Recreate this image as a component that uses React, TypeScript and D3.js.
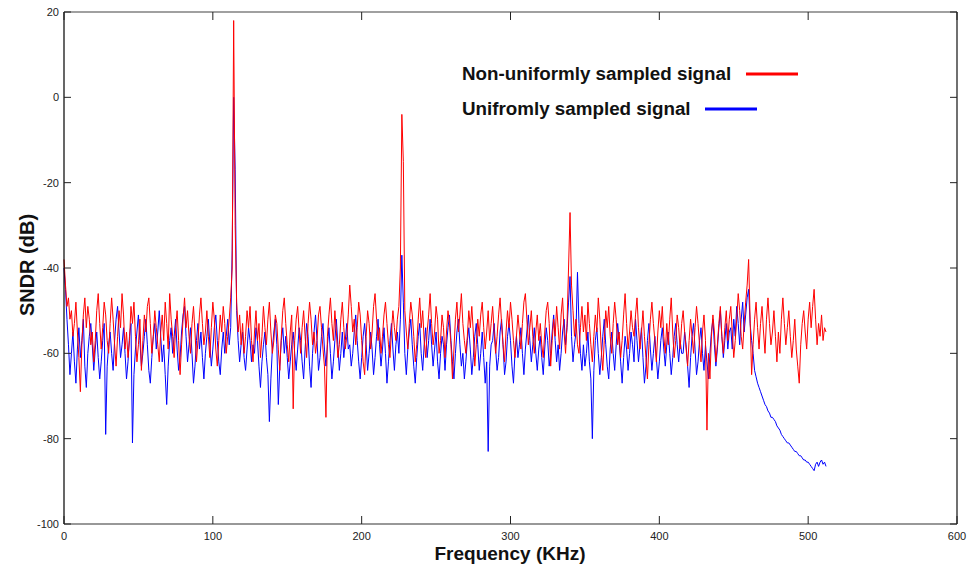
import * as d3 from "d3";
import { useEffect } from "react";

// spectrum bins, 1 kHz apart, 0..512 kHz
const freqStep = 1;

// SNDR (dB), non-uniformly sampled signal
const nonUniform = [
  -38, -44, -49, -47, -52, -50, -56, -53, -48, -55, -61, -69, -58, -51, -47, -54,
  -49, -52, -58, -55, -62, -57, -50, -46, -53, -59, -54, -48, -51, -57, -60, -53,
  -47, -52, -58, -63, -56, -50, -54, -46, -51, -59, -55, -61, -57, -49, -53, -48,
  -56, -62, -58, -52, -64, -57, -51, -55, -49, -47, -53, -60, -56, -50, -54, -58,
  -62, -55, -51, -57, -48, -53, -59, -46, -52, -56, -61, -54, -50, -57, -65, -58,
  -52, -47, -54, -50, -56, -60, -53, -49, -55, -62, -57, -51, -47, -53, -58, -55,
  -50, -56, -61, -54, -48, -52, -59, -63, -57, -51, -55, -49, -53, -60, -56, -52,
  -47, -40, 18, -30, -48, -55, -51, -58, -53, -60, -56, -50, -54, -49, -57, -62,
  -55, -50, -57, -53, -61, -56, -49, -54, -58, -52, -48, -55, -60, -57, -51, -53,
  -59, -64, -56, -50, -47, -53, -58, -62, -55, -51, -73, -57, -52, -49, -55, -60,
  -54, -50, -56, -61, -53, -48, -52, -58, -55, -60, -57, -51, -49, -54, -59, -63,
  -75, -56, -51, -47, -53, -57, -50, -55, -61, -58, -52, -48, -54, -59, -56, -51,
  -44, -49, -55, -52, -58, -54, -48, -51, -57, -62, -65, -56, -50, -53, -59, -55,
  -49, -46, -52, -57, -54, -60, -56, -51, -48, -53, -58, -61, -55, -50, -54, -57,
  -52, -49, -40, -4, -15, -50, -55, -59, -53, -48, -51, -56, -62, -58, -52, -47,
  -54, -50, -57, -61, -55, -51, -46, -53, -58, -55, -49, -52, -60, -57, -51, -54,
  -61, -55, -50, -53, -58, -66, -59, -52, -48, -55, -51, -46, -53, -57, -60, -56,
  -50, -54, -49, -55, -63, -58, -52, -56, -51, -48, -54, -59, -55, -50, -57, -53,
  -49, -55, -60, -56, -51, -47, -53, -58, -62, -55, -50, -54, -48, -52, -57, -61,
  -56, -51, -55, -59, -53, -48, -46, -52, -58, -54, -50, -56, -60, -55, -51, -57,
  -53, -58, -61, -55, -50, -48, -53, -63, -57, -52, -56, -49, -54, -59, -51, -47,
  -55, -60, -53, -40, -27, -44, -50, -56, -52, -58, -60, -54, -49, -55, -51, -57,
  -48, -53, -58, -62, -56, -51, -55, -47, -52, -59, -64, -57, -50, -54, -49, -56,
  -60, -53, -48, -52, -58, -55, -61, -57, -51, -46, -53, -59, -55, -50, -54, -56,
  -51, -47, -54, -59, -55, -50, -56, -61, -66, -58, -52, -48, -53, -57, -62, -55,
  -50, -54, -49, -56, -60, -53, -58, -52, -47, -55, -61, -57, -51, -54, -59, -53,
  -50, -55, -59, -63, -57, -52, -56, -60, -54, -49, -53, -58, -62, -55, -51, -57,
  -78, -60, -66, -56, -51, -55, -62, -58, -53, -49, -56, -60, -54, -50, -57, -52,
  -49, -55, -61, -57, -52, -46, -50, -56, -59, -53, -48, -44, -38, -52, -65, -58,
  -52, -48, -54, -59, -53, -49, -55, -60, -52, -47, -53, -58, -55, -50, -56, -62,
  -55, -60, -52, -47, -53, -58, -54, -50, -56, -61, -57, -52, -59, -63, -67, -58,
  -53, -50, -55, -59, -52, -48, -54, -49, -45, -52, -58, -53, -56, -51, -57, -54,
  -55,
];

// SNDR (dB), uniformly sampled signal
const uniform = [
  -40, -45, -52, -58, -65, -60, -55, -62, -67, -59, -54, -61, -57, -52, -63, -68,
  -60, -56, -53, -58, -64, -59, -55, -61, -66, -62, -57, -53, -79, -63, -58, -55,
  -60, -64, -57, -52, -49, -55, -61, -58, -54, -60, -66, -62, -56, -53, -81, -65,
  -59, -55, -51, -57, -63, -60, -56, -52, -58, -64, -67, -61, -56, -53, -59, -55,
  -50, -56, -62, -58, -65, -72, -63, -57, -54, -60, -56, -52, -59, -64, -61, -55,
  -51, -49, -56, -62, -58, -54, -60, -67, -63, -57, -53, -59, -55, -61, -66, -60,
  -56, -52, -58, -63, -59, -54, -51, -57, -62, -65, -59, -55, -60, -56, -52, -58,
  -54, -36, 0, -17, -50, -57, -62, -58, -55, -61, -64, -59, -54, -57, -62, -58,
  -60, -54, -57, -63, -68, -62, -58, -55, -61, -65, -76, -66, -59, -55, -52, -58,
  -72, -63, -57, -54, -60, -56, -61, -66, -62, -58, -55, -60, -64, -59, -54, -57,
  -62, -66, -59, -53, -56, -63, -68, -60, -55, -51, -57, -64, -61, -56, -53, -59,
  -63, -58, -54, -60, -66, -62, -57, -52, -58, -64, -60, -55, -61, -57, -53, -59,
  -58, -63, -60, -55, -51, -57, -62, -66, -61, -56, -53, -58, -64, -60, -55, -59,
  -65, -61, -56, -52, -58, -63, -59, -54, -60, -67, -62, -57, -53, -59, -64, -58,
  -55, -60, -52, -37, -48, -60, -65, -59, -55, -52, -58, -63, -67, -61, -56, -53,
  -60, -64, -58, -54, -61, -57, -52, -58, -63, -59, -55, -62, -66, -60, -56, -58,
  -64, -58, -54, -51, -57, -62, -66, -60, -55, -52, -58, -63, -60, -66, -62, -57,
  -54, -59, -65, -61, -56, -53, -58, -64, -60, -55, -61, -67, -62, -83, -63, -58,
  -57, -53, -59, -64, -61, -55, -52, -58, -65, -62, -56, -53, -57, -63, -67, -60,
  -56, -61, -58, -54, -60, -65, -59, -55, -51, -57, -62, -58, -54, -60, -64, -59,
  -56, -61, -65, -59, -54, -57, -63, -60, -55, -51, -57, -62, -58, -64, -60, -55,
  -52, -58, -54, -48, -42, -56, -62, -58, -55, -41, -53, -60, -64, -58, -63, -60,
  -55, -62, -66, -80, -64, -57, -54, -60, -65, -61, -56, -52, -58, -63, -66, -59,
  -55, -60, -64, -58, -53, -57, -62, -67, -61, -56, -59, -64, -60, -55, -58, -62,
  -52, -57, -62, -58, -54, -61, -67, -63, -57, -53, -59, -64, -60, -56, -61, -66,
  -62, -57, -54, -59, -63, -58, -55, -60, -65, -61, -56, -53, -58, -62, -57, -60,
  -60, -55, -58, -63, -68, -61, -56, -53, -59, -65, -62, -57, -54, -60, -64, -58,
  -62, -66, -60, -55, -52, -58, -63, -59, -54, -50, -56, -61, -57, -53, -59, -55,
  -54, -59, -52, -56, -49, -53, -58, -52, -48, -55, -51, -47, -45, -53, -57, -60,
  -64, -65.5, -67, -68, -69, -70, -71, -72, -72.5, -73.5, -74, -75, -75, -75.5, -76, -77,
  -77.5, -78, -79, -79.5, -80, -80.5, -81, -81, -81.5, -82, -82.5, -83, -83, -83.5, -84, -84,
  -84.5, -85, -85, -85.5, -85.5, -86, -86.5, -87, -87.5, -86, -85.5, -86.5, -85.5, -85, -86, -85.5,
  -86.5,
];

const xTicks = [0, 100, 200, 300, 400, 500, 600];
const yTicks = [-100, -80, -60, -40, -20, 0, 20];

const legendItems = [
  { label: "Non-uniformly sampled signal", color: "#ff0000" },
  { label: "Unifromly sampled signal", color: "#0000ff" },
];

export default function App() {
  useEffect(() => {
    document.body.style.margin = "0";
  }, []);

  const width = 967;
  const height = 567;
  const left = 64, right = 957, top = 12, bottom = 524;

  const x = d3.scaleLinear([0, 600], [left, right]);
  const y = d3.scaleLinear([-100, 20], [bottom, top]);

  const line = d3
    .line<number>()
    .x((d, i) => x(i * freqStep))
    .y((d) => y(d));

  const font = "'Liberation Sans', Arial, sans-serif";

  return (
    <svg width={width} height={height} style={{ display: "block", background: "#fff" }}>
      {/* data */}
      <path d={line(uniform) ?? ""} fill="none" stroke="#0000ff" strokeWidth={1} />
      <path d={line(nonUniform) ?? ""} fill="none" stroke="#ff0000" strokeWidth={1} />

      {/* frame */}
      <line x1={left} x2={right} y1={top} y2={top} stroke="#808080" strokeWidth={1.5} />
      <line x1={right} x2={right} y1={top} y2={bottom} stroke="#111" strokeWidth={1.2} />
      <line x1={left} x2={right} y1={bottom} y2={bottom} stroke="#333" strokeWidth={1.2} />
      <line x1={left} x2={left} y1={top} y2={bottom} stroke="#000" strokeWidth={1.2} />

      {/* x ticks */}
      {xTicks.map((t) => (
        <g key={"x" + t}>
          <line x1={x(t)} x2={x(t)} y1={bottom} y2={bottom - 8} stroke="#222" />
          <line x1={x(t)} x2={x(t)} y1={top} y2={top + 8} stroke="#222" />
          <text x={x(t)} y={540} textAnchor="middle" fontFamily={font} fontSize={11} fill="#222">
            {t}
          </text>
        </g>
      ))}

      {/* y ticks */}
      {yTicks.map((t) => (
        <g key={"y" + t}>
          <line x1={left} x2={left + 7} y1={y(t)} y2={y(t)} stroke="#222" />
          <line x1={right} x2={right - 7} y1={y(t)} y2={y(t)} stroke="#222" />
          <text x={59} y={y(t) + 4} textAnchor="end" fontFamily={font} fontSize={11} fill="#222">
            {t}
          </text>
        </g>
      ))}

      {/* axis titles */}
      <text x={510} y={560} textAnchor="middle" fontFamily={font} fontSize={19} fontWeight="bold" fill="#111">
        Frequency (KHz)
      </text>
      <text
        transform="translate(34,265) rotate(-90)"
        textAnchor="middle"
        fontFamily={font}
        fontSize={20}
        fontWeight="bold"
        fill="#111"
      >
        SNDR (dB)
      </text>

      {/* legend */}
      {legendItems.map((d, i) => {
        const ty = 80 + i * 35;
        const lx = i === 0 ? 746 : 705;
        return (
          <g key={d.label}>
            <text x={462} y={ty} fontFamily={font} fontSize={18.8} fontWeight="bold" fill="#111">
              {d.label}
            </text>
            <line x1={lx} x2={lx + 52} y1={ty - 6} y2={ty - 6} stroke={d.color} strokeWidth={3} />
          </g>
        );
      })}
    </svg>
  );
}
